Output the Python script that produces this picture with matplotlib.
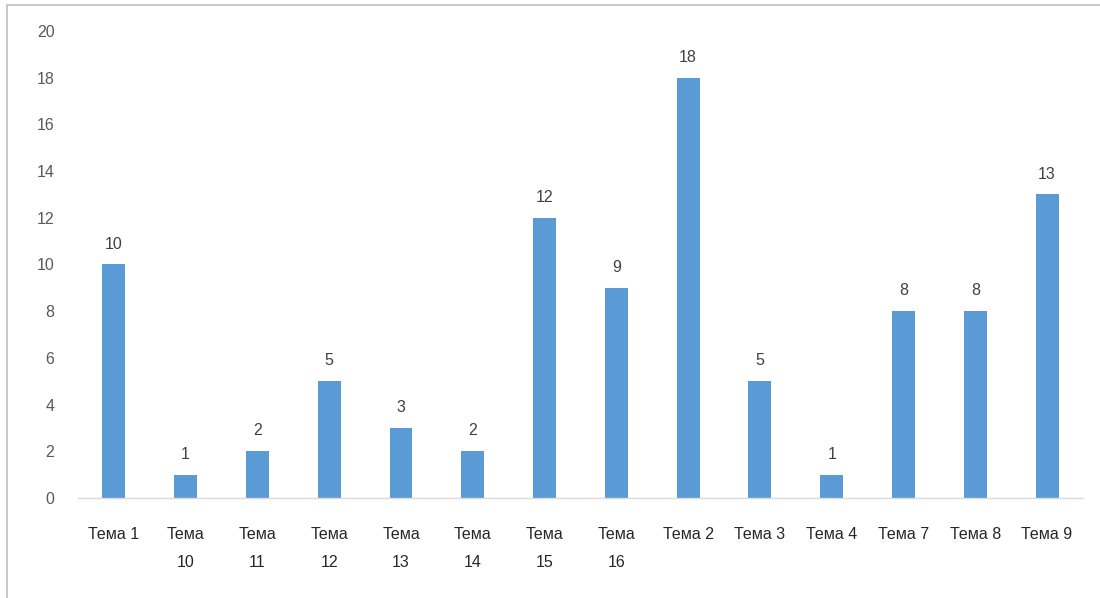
import matplotlib.pyplot as plt
from matplotlib.patches import Rectangle

categories = ['Тема 1', 'Тема\n10', 'Тема\n11', 'Тема\n12', 'Тема\n13', 'Тема\n14', 'Тема\n15',
              'Тема\n16', 'Тема 2', 'Тема 3', 'Тема 4', 'Тема 7', 'Тема 8', 'Тема 9']
values = [10, 1, 2, 5, 3, 2, 12, 9, 18, 5, 1, 8, 8, 13]
yticks = [0, 2, 4, 6, 8, 10, 12, 14, 16, 18, 20]

plt.rcParams['font.family'] = ['Liberation Sans', 'DejaVu Sans']

fig = plt.figure(figsize=(11, 5.98), dpi=100)
ax = fig.add_axes([0.0709, 0.1672, 0.9136, 0.781])

x = range(len(categories))
bars = ax.bar(x, values, width=0.32, color='#5B9BD5')
for b, v in zip(bars, values):
    ax.text(b.get_x() + b.get_width() / 2, v + 0.55, str(v), ha='center', va='bottom',
            fontsize=11.5, color='#404040')

ax.set_xlim(-0.5, len(categories) - 0.5)
ax.set_ylim(0, 20)
ax.set_yticks(yticks)
ax.set_xticks(list(x))
ax.set_xticklabels(categories, fontsize=11.5, color='#262626', linespacing=2.1)
ax.tick_params(axis='y', length=0, pad=17, labelsize=11.5, labelcolor='#595959')
ax.tick_params(axis='x', length=0, pad=21)
for s in ['top', 'right', 'left']:
    ax.spines[s].set_visible(False)
ax.spines['bottom'].set_color('#D9D9D9')
ax.spines['bottom'].set_linewidth(1)

# outer chart border
fig.patches.append(Rectangle((7 / 1100, -0.05), 1.1, 1.05 - 5 / 598, transform=fig.transFigure,
                             fill=False, edgecolor='#BFBFBF', linewidth=1.2))

fig.savefig('out.png', dpi=100)
